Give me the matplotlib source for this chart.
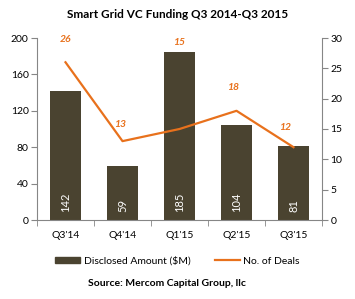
import matplotlib
matplotlib.use("Agg")
import matplotlib.pyplot as plt
from matplotlib.patches import Patch
from matplotlib.lines import Line2D
import numpy as np

quarters = ["Q3'14", "Q4'14", "Q1'15", "Q2'15", "Q3'15"]
amount = [142, 59, 185, 104, 81]
deals = [26, 13, 15, 18, 12]
# label anchor heights (right-axis units), as placed in the reference
deal_label_y = [29.8, 15.8, 29.3, 21.9, 15.3]
deal_label_dx = [0, -0.05, 0, -0.06, -0.15]

plt.rcParams['font.family'] = ['Lato', 'DejaVu Sans']
bar_color = '#4a4330'
line_color = '#e8711c'
spine_color = '#868686'

fig = plt.figure(figsize=(3.55, 2.99), dpi=100)
ax = fig.add_axes([37/355, 1-220/299, 285/355, 182/299])
x = np.arange(len(quarters))
ax.bar(x, amount, width=0.56, color=bar_color, zorder=2)
ax.set_xlim(-0.5, len(quarters)-0.5)
ax.set_ylim(0, 200)
ax.set_yticks([0, 40, 80, 120, 160, 200])
ax.set_xticks(x)
ax.set_xticklabels(quarters, fontsize=7.5)
ax.set_xticks(np.arange(-0.5, len(quarters), 1), minor=True)
ax.tick_params(axis='x', which='major', length=0, pad=8)
ax.tick_params(axis='x', which='minor', length=4, color=spine_color)
ax.tick_params(axis='y', length=4, color=spine_color, labelsize=7.5, pad=2)
for s in ['top', 'right']:
    ax.spines[s].set_visible(False)
for s in ['left', 'bottom']:
    ax.spines[s].set_color(spine_color)

for xi, v in zip(x, amount):
    ax.annotate(str(v), (xi, 0), xytext=(0, 6), textcoords='offset points',
                rotation=90, ha='center', va='bottom', color='white', fontsize=8)

ax2 = ax.twinx()
ax2.plot(x, deals, color=line_color, lw=1.6, zorder=3)
ax2.set_ylim(0, 30)
ax2.set_yticks([0, 5, 10, 15, 20, 25, 30])
ax2.tick_params(axis='y', length=4, color=spine_color, labelsize=7.5, pad=2)
for s in ['top', 'left', 'bottom']:
    ax2.spines[s].set_visible(False)
ax2.spines['right'].set_color(spine_color)
for xi, v, ly, dx in zip(x, deals, deal_label_y, deal_label_dx):
    ax2.text(xi + dx, ly, str(v), color=line_color, fontsize=7.5, fontweight='bold',
             fontstyle='italic', ha='center', va='center')

fig.text(0.5, 1-15/299, "Smart Grid VC Funding Q3 2014-Q3 2015", ha='center', va='center',
         fontsize=8.5, fontweight='bold')

handles = [Patch(color=bar_color, label='Disclosed Amount ($M)'),
           Line2D([], [], color=line_color, lw=1.6, label='No. of Deals')]
fig.legend(handles=handles, loc='center', bbox_to_anchor=(0.5, 1-261/299), ncol=2,
           frameon=False, fontsize=7.5, handlelength=2.4, handleheight=0.5,
           columnspacing=2.3, handletextpad=0.35)

fig.text(0.47, 1-284/299, "Source: Mercom Capital Group, llc", ha='center', va='center',
         fontsize=7.5, fontweight='bold')

fig.savefig('out.png', dpi=100)
